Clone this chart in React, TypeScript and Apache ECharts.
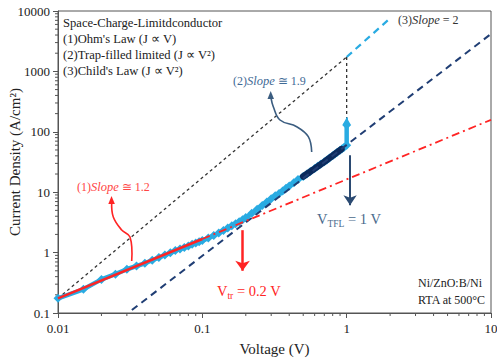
import React, { useEffect, useRef } from "react";
import * as echarts from "echarts";

// ---- data ----
const X_TICKS = ["0.01", "0.1", "1", "10"];
const Y_TICKS = ["0.1", "1", "10", "100", "1000", "10000"];

const blueV = [0.01, 0.015, 0.02, 0.025, 0.03, 0.035, 0.04, 0.045, 0.05, 0.055, 0.06, 0.065, 0.07, 0.075, 0.08, 0.085, 0.09, 0.095, 0.1, 0.11, 0.12, 0.13, 0.14, 0.15, 0.16, 0.17, 0.18, 0.19, 0.2, 0.22, 0.24, 0.26, 0.28, 0.3, 0.32, 0.34, 0.36, 0.38, 0.4, 0.43, 0.46, 0.5, 0.53, 0.56, 0.6, 0.63, 0.66, 0.7, 0.73, 0.76, 0.8, 0.83, 0.86, 0.9, 0.93, 0.96, 1.0, 1.0];
const blueJ = [0.175, 0.247, 0.36, 0.44, 0.53, 0.6, 0.665, 0.75, 0.83, 0.91, 0.99, 1.08, 1.15, 1.22, 1.29, 1.37, 1.44, 1.51, 1.58, 1.74, 1.92, 2.12, 2.33, 2.55, 2.78, 3.0, 3.25, 3.5, 3.8, 4.5, 5.2, 6.0, 6.9, 7.8, 8.7, 9.5, 10.5, 11.6, 12.7, 14.4, 16.2, 18.2, 20.0, 22.0, 24.6, 26.8, 29.0, 31.8, 34.2, 36.8, 40.2, 43.0, 45.8, 49.5, 52.5, 55.5, 60, 130];

const darkV = [0.5, 0.6, 0.7, 0.8, 0.92];
const darkJ = [18.2, 24.6, 31.8, 40.2, 51.5];

const ohmFitV = [0.01, 0.1];
const ohmFitJ = [0.175, 1.68];
const ohmExtV = [0.1, 10];
const ohmExtJ = [1.68, 158];

const childV = [0.01, 1];
const childJ = [0.175, 1730];
const childExtV = [1, 1.94];
const childExtJ = [1730, 7100];

const tflV = [0.0325, 10];
const tflJ = [0.112, 4170];

const vertV = [1, 1];
const vertJ = [1730, 130];

const zip = (a: number[], b: number[]) => a.map((v, i) => [v, b[i]]);

const SERIF = '"Liberation Serif", "Times New Roman", serif';
const RED = "#FF2424";
const LBLUE = "#29ABE2";

export default function App() {
  const ref = useRef<HTMLDivElement>(null);
  useEffect(() => {
    if (!ref.current) return;
    const chart = echarts.init(ref.current, undefined, { renderer: "svg" });
    const fmt = (ticks: string[]) => (v: number) =>
      ticks.find((t) => Math.abs(Math.log10(+t) - Math.log10(v)) < 1e-6) ?? "";
    chart.setOption({
      animation: false,
      backgroundColor: "#fff",
      grid: { left: 58, right: 6, top: 11, bottom: 50, show: true, borderColor: "#555", borderWidth: 1, containLabel: false, outerBoundsMode: "none" },
      xAxis: {
        type: "log", logBase: 10, min: 0.01, max: 10,
        name: "Voltage (V)", nameLocation: "middle", nameGap: 28, nameMoveOverlap: false,
        nameTextStyle: { fontFamily: SERIF, fontSize: 15, color: "#222" },
        axisLine: { lineStyle: { color: "#555" } },
        axisTick: { length: 5, lineStyle: { color: "#555" } },
        axisLabel: { fontFamily: SERIF, fontSize: 13, color: "#222", margin: 9, formatter: fmt(X_TICKS), hideOverlap: false },
        splitLine: { show: false },
      },
      yAxis: {
        type: "log", logBase: 10, min: 0.1, max: 10000,
        name: "Current Density (A/cm²)", nameLocation: "middle", nameGap: 36, nameMoveOverlap: false,
        nameTextStyle: { fontFamily: SERIF, fontSize: 15, color: "#222" },
        axisLine: { show: true, lineStyle: { color: "#555" } },
        axisTick: { show: true, length: 5, lineStyle: { color: "#555" } },
        axisLabel: { fontFamily: SERIF, fontSize: 13, color: "#222", margin: 8, formatter: fmt(Y_TICKS) },
        splitLine: { show: false },
      },
      series: [
        { type: "line", data: zip(childV, childJ), symbol: "none", lineStyle: { color: "#333", width: 1.3, type: [3, 3] }, z: 2 },
        { type: "line", data: zip(vertV, vertJ), symbol: "none", lineStyle: { color: "#333", width: 1.3, type: [3, 3] }, z: 2 },
        { type: "line", data: zip(childExtV, childExtJ), symbol: "none", lineStyle: { color: LBLUE, width: 2.2, type: [7, 5] }, z: 2 },
        {
          type: "line", data: zip(blueV, blueJ), symbol: "diamond", symbolSize: 9,
          itemStyle: { color: LBLUE }, lineStyle: { color: LBLUE, width: 4.5 }, z: 3,
          markLine: {
            silent: true, symbol: ["none", "arrow"], symbolSize: [6, 7], label: { show: false },
            lineStyle: { color: LBLUE, width: 1.8, type: "solid" },
            data: [[{ coord: [1, 130] }, { coord: [1, 172] }]],
          },
        },
        { type: "line", data: zip(darkV, darkJ), symbol: "none", lineStyle: { color: "#0B2A5C", width: 6.5, cap: "round" }, z: 4 },
        {
          type: "line", data: zip(tflV, tflJ), symbol: "none", lineStyle: { color: "#203E74", width: 2, type: [7, 5] }, z: 5,
          markLine: {
            silent: true, symbol: ["none", "arrow"], symbolSize: [10, 10], label: { show: false },
            lineStyle: { color: "#2B4A72", width: 2, type: "solid" },
            data: [[{ coord: [1.056, 41] }, { coord: [1.056, 6.1] }]],
          },
        },
        {
          type: "line", data: zip(ohmFitV, ohmFitJ), symbol: "none", lineStyle: { color: RED, width: 2.5 }, z: 6,
          markLine: {
            silent: true, symbol: ["none", "arrow"], symbolSize: [11, 10], label: { show: false },
            lineStyle: { color: RED, width: 2.5, type: "solid" },
            data: [[{ coord: [0.19, 2.35] }, { coord: [0.19, 0.5] }]],
          },
        },
        { type: "line", data: zip(ohmExtV, ohmExtJ), symbol: "none", lineStyle: { color: RED, width: 1.8, type: [8, 4, 2, 4] }, z: 6 },
      ],
    });

    const els: any[] = [];
    const txt = (x: number, y: number, text: string, size: number, fill: string, extra: any = {}) => ({
      type: "text", silent: true, z: 50,
      style: { x, y, text, font: `${size}px ${SERIF}`, fill, verticalAlign: "middle", align: "left", ...extra },
    });
    els.push(txt(63, 23, "Space-Charge-Limitdconductor", 12.6, "#222"));
    els.push(txt(63, 39, "(1)Ohm's Law (J ∝ V)", 12.6, "#222"));
    els.push(txt(63, 55, "(2)Trap-filled limited (J ∝ V²)", 12.6, "#222"));
    els.push(txt(63, 71, "(3)Child's Law (J ∝ V²)", 12.6, "#222"));
    els.push(txt(418, 283, "Ni/ZnO:B/Ni", 12, "#222"));
    els.push(txt(418, 300, "RTA at 500°C", 12, "#222"));

    const slope = (x: number, y: number, n: string, v: string, fill: string, eq: string) => ({
      type: "text", silent: true, z: 50,
      style: {
        x, y, text: `{n|${n}}{i|Slope}{n| ${eq} ${v}}`, verticalAlign: "middle", align: "left",
        rich: {
          n: { fontFamily: SERIF, fontSize: 12, fill },
          i: { fontFamily: SERIF, fontSize: 12.5, fontStyle: "italic", fill },
        },
      },
    });
    els.push(slope(77, 187, "(1)", "1.2", "#FF4545", "≅"));
    els.push(slope(233, 81, "(2)", "1.9", "#3F6A96", "≅"));
    els.push(slope(398, 20, "(3)", "2", "#333", "="));

    const vsub = (x: number, y: number, sub: string, rest: string, fill: string) => ({
      type: "text", silent: true, z: 50,
      style: {
        x, y, text: `{m|V}{s|${sub}}{m| ${rest}}`, verticalAlign: "middle", align: "left",
        rich: {
          m: { fontFamily: SERIF, fontSize: 14.5, fill, lineHeight: 20, verticalAlign: "middle" },
          s: { fontFamily: SERIF, fontSize: 9.5, fill, lineHeight: 11, verticalAlign: "bottom" },
        },
      },
    });
    els.push(vsub(217, 291, "tr", "= 0.2 V", RED));
    els.push(vsub(317, 219, "TFL", "= 1 V", "#4A6A8C"));

    // curved annotation arrows
    els.push({ type: "polyline", silent: true, z: 50, shape: { points: [[131.7, 261], [130, 237], [121.7, 230], [113.3, 217], [111.7, 202]], smooth: 0.4 }, style: { stroke: RED, lineWidth: 1.6, fill: null } });
    els.push({ type: "polygon", silent: true, z: 50, shape: { points: [[111.5, 196], [108.3, 204], [114.9, 204]] }, style: { fill: RED } });
    els.push({ type: "polyline", silent: true, z: 50, shape: { points: [[311.7, 152], [308.3, 136.7], [296.7, 126.7], [280, 120], [273.3, 106.7], [271, 98]], smooth: 0.4 }, style: { stroke: "#3B5D80", lineWidth: 1.6, fill: null } });
    els.push({ type: "polygon", silent: true, z: 50, shape: { points: [[270.7, 91], [267.5, 99], [274, 99]] }, style: { fill: "#3B5D80" } });

    // log minor ticks (positions from the chart's own scales)
    const bottom = chart.convertToPixel({ gridIndex: 0 }, [1, 0.1]) as number[];
    const left = chart.convertToPixel({ gridIndex: 0 }, [0.01, 1]) as number[];
    for (let k = -2; k <= 0; k++) {
      for (let m = 2; m <= 9; m++) {
        const p = chart.convertToPixel({ gridIndex: 0 }, [m * Math.pow(10, k), 1]) as number[];
        els.push({ type: "line", silent: true, shape: { x1: p[0], y1: bottom[1], x2: p[0], y2: bottom[1] + 3 }, style: { stroke: "#555", lineWidth: 1 } });
      }
    }
    for (let k = -1; k <= 3; k++) {
      for (let m = 2; m <= 9; m++) {
        const p = chart.convertToPixel({ gridIndex: 0 }, [1, m * Math.pow(10, k)]) as number[];
        els.push({ type: "line", silent: true, shape: { x1: left[0] - 3, y1: p[1], x2: left[0], y2: p[1] }, style: { stroke: "#555", lineWidth: 1 } });
      }
    }
    chart.setOption({ graphic: els });
    return () => chart.dispose();
  }, []);
  return <div ref={ref} style={{ position: "fixed", left: 0, top: 0, width: 497, height: 363, background: "#fff" }} />;
}
